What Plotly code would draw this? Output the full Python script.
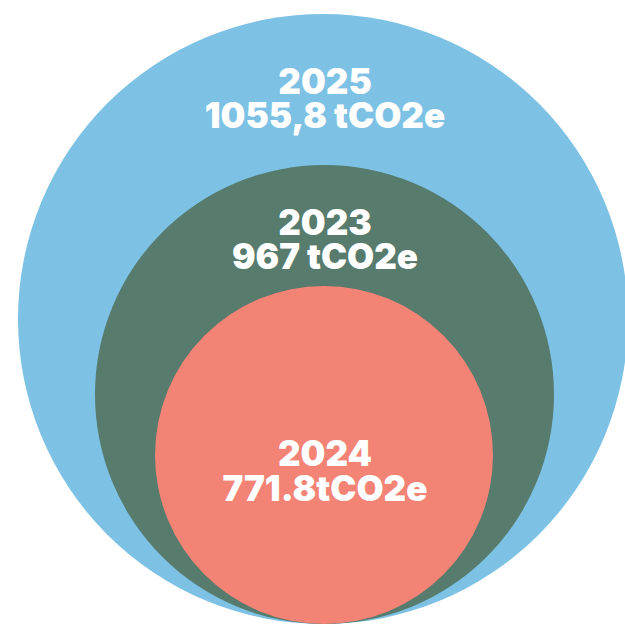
import plotly.graph_objects as go

# data
years = ["2025", "2023", "2024"]
emissions = ["1055,8 tCO2e", "967 tCO2e", "771.8tCO2e"]

# layout of the nested circles (pixel space), outer to inner
colors = ["#7DC1E4", "#577B6D", "#F28375"]
centers_x = [323, 324.5, 324]
radii = [305, 229.5, 169]
bottom = 624
year_y = [85, 226, 457]
value_y = [119, 260, 492]

fig = go.Figure()

for i in range(len(years)):
    cy = bottom - radii[i]
    fig.add_shape(type="circle", xref="x", yref="y",
                  x0=centers_x[i] - radii[i], x1=centers_x[i] + radii[i],
                  y0=cy - radii[i], y1=cy + radii[i],
                  fillcolor=colors[i], line=dict(width=0), layer="below")

font = dict(family="Inter", size=35, color="white", weight=900)
fig.add_trace(go.Scatter(x=[325] * len(years), y=year_y, mode="text",
                         text=years, textfont=font,
                         hoverinfo="skip", showlegend=False))
fig.add_trace(go.Scatter(x=[325] * len(years), y=value_y, mode="text",
                         text=emissions, textfont=font,
                         hoverinfo="skip", showlegend=False))

fig.update_layout(
    width=625, height=624,
    margin=dict(l=0, r=0, t=0, b=0),
    paper_bgcolor="white", plot_bgcolor="white",
    xaxis=dict(range=[0, 625], visible=False, fixedrange=True),
    yaxis=dict(range=[624, 0], visible=False, fixedrange=True),
)

fig.write_html("out.html", config={"displayModeBar": False},
               post_script="document.body.style.margin='0';")
